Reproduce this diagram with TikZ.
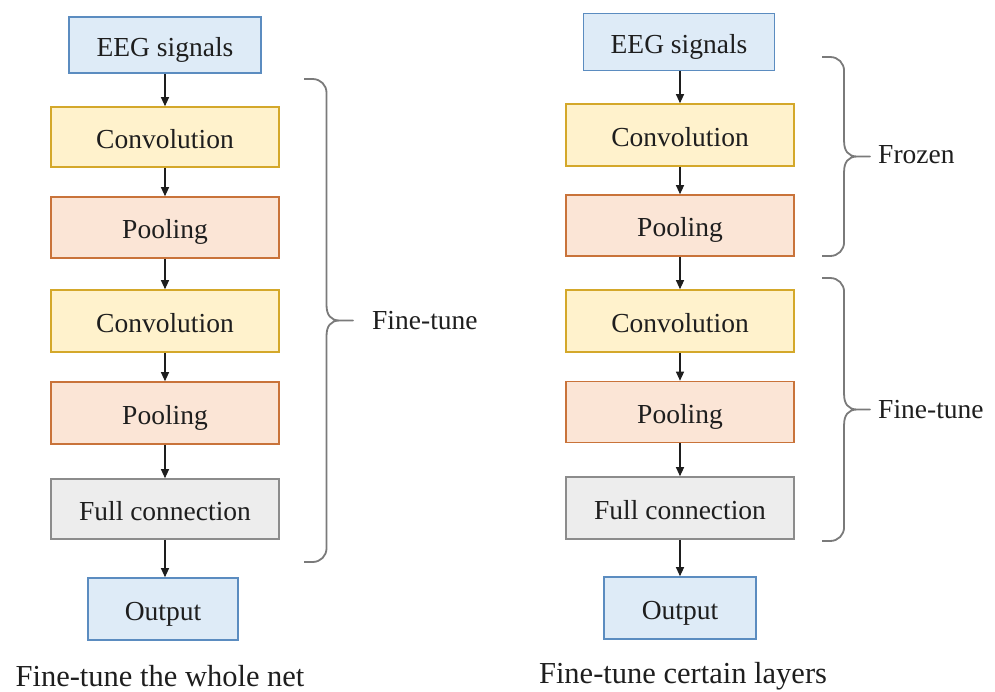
\documentclass[tikz,border=0pt]{standalone}
\usepackage{fontspec}
\setmainfont{Liberation Serif}
\usetikzlibrary{arrows.meta,calc}

\definecolor{blueFill}{HTML}{DEEBF7}
\definecolor{blueLine}{HTML}{5B8CC0}
\definecolor{yelFill}{HTML}{FFF2CC}
\definecolor{yelLine}{HTML}{D4A82A}
\definecolor{oraFill}{HTML}{FBE5D6}
\definecolor{oraLine}{HTML}{C9733A}
\definecolor{grayFill}{HTML}{EDEDED}
\definecolor{grayLine}{HTML}{8C8C8C}
\definecolor{braceGray}{HTML}{7A7A7A}
\definecolor{ink}{HTML}{1E1E1E}

\tikzset{
  layer/.style={draw, line width=1.6pt, rectangle, inner sep=0pt,
    minimum width=228pt, minimum height=61pt, text=ink,
    text height=24pt, text depth=2pt,
    font=\fontsize{27.5}{33}\selectfont},
  io/.style={layer, fill=blueFill, draw=blueLine},
  convbox/.style={layer, fill=yelFill, draw=yelLine},
  poolbox/.style={layer, fill=oraFill, draw=oraLine},
  fcbox/.style={layer, fill=grayFill, draw=grayLine},
  flow/.style={draw=ink, line width=1.1pt, -{Triangle[length=9pt,width=8pt]}},
  % right-facing curly brace from a top point to a bottom point;
  % #1 is the distance from the ends to the tip
  curlyto/.style={draw=braceGray, line width=1.8pt, line join=round,
    to path={let \p1=(\tikztostart), \p2=(\tikztotarget),
                 \p3=($(\p1)!0.5!(\p2)$) in
      (\p1) -- ({\x1+0.46*#1-14pt},\y1)
      .. controls ({\x1+0.46*#1-6pt},\y1) and ({\x1+0.46*#1},{\y1-6pt}) .. ({\x1+0.46*#1},{\y1-14pt})
      -- ({\x1+0.46*#1},{\y3+15pt})
      .. controls ({\x1+0.46*#1},{\y3+6pt}) and ({\x1+0.46*#1+4pt},\y3) .. ({\x1+0.46*#1+13pt},\y3)
      -- ({\x1+#1},\y3) -- ({\x1+0.46*#1+13pt},\y3)
      .. controls ({\x1+0.46*#1+4pt},\y3) and ({\x1+0.46*#1},{\y3-6pt}) .. ({\x1+0.46*#1},{\y3-15pt})
      -- ({\x1+0.46*#1},{\y2+14pt})
      .. controls ({\x1+0.46*#1},{\y2+6pt}) and ({\x1+0.46*#1-6pt},\y2) .. ({\x1+0.46*#1-14pt},\y2)
      -- (\p2)}},
  bracelabel/.style={anchor=west, inner sep=0pt, text=ink,
    font=\fontsize{27.5}{33}\selectfont},
  caption/.style={inner sep=0pt, text=ink, font=\fontsize{30.5}{36}\selectfont}
}

\begin{document}
\begin{tikzpicture}[x=1pt, y=-1pt]
\useasboundingbox (0,0) rectangle (995,691);

% whole network fine-tuned
\node[io, minimum width=192pt, minimum height=56pt] (inA) at (165,45) {EEG signals};
\node[convbox, minimum height=60pt] (convA1) at (165,137) {Convolution};
\node[poolbox] (poolA1) at (165,227.5) {Pooling};
\node[convbox, minimum height=62pt] (convA2) at (165,321) {Convolution};
\node[poolbox, minimum height=62pt] (poolA2) at (165,413) {Pooling};
\node[fcbox, minimum height=60pt] (fcA) at (165,509) {Full connection};
\node[io, minimum width=150pt, minimum height=62pt] (outA) at (163,609) {Output};

\draw[flow] (inA.south) -- (convA1.north);
\draw[flow] (convA1.south) -- (poolA1.north);
\draw[flow] (poolA1.south) -- (convA2.north);
\draw[flow] (convA2.south) -- (poolA2.north);
\draw[flow] (poolA2.south) -- (fcA.north);
\draw[flow] (fcA.south) -- (outA.north -| fcA.south);

\coordinate (brA1) at (304,79);
\coordinate (brA2) at (304,562);
\draw[curlyto=49pt] (brA1) to (brA2);
\node[bracelabel] (lblA) at (372,321) {Fine-tune};

\node[caption] (capA) at (160,676) {Fine-tune the whole net};

% only some layers fine-tuned
\node[io, minimum width=191pt, minimum height=57pt] (inB) at (679,42) {EEG signals};
\node[convbox, minimum height=62pt] (convB1) at (680,135) {Convolution};
\node[poolbox] (poolB1) at (680,225.5) {Pooling};
\node[convbox, minimum height=62pt] (convB2) at (680,321) {Convolution};
\node[poolbox] (poolB2) at (680,412) {Pooling};
\node[fcbox, minimum height=62pt] (fcB) at (680,508) {Full connection};
\node[io, minimum width=152pt, minimum height=62pt] (outB) at (680,608) {Output};

\draw[flow] (inB.south -| convB1.north) -- (convB1.north);
\draw[flow] (convB1.south) -- (poolB1.north);
\draw[flow] (poolB1.south) -- (convB2.north);
\draw[flow] (convB2.south) -- (poolB2.north);
\draw[flow] (poolB2.south) -- (fcB.north);
\draw[flow] (fcB.south) -- (outB.north);

\coordinate (brB1) at (822,57);
\coordinate (brB2) at (822,256);
\draw[curlyto=48pt] (brB1) to (brB2);
\node[bracelabel] (lblB1) at (878,155) {Frozen};

\coordinate (brB3) at (822,278);
\coordinate (brB4) at (822,541);
\draw[curlyto=48pt] (brB3) to (brB4);
\node[bracelabel] (lblB2) at (878,410) {Fine-tune};

\node[caption] (capB) at (683,676) {Fine-tune certain layers};
\end{tikzpicture}
\end{document}
